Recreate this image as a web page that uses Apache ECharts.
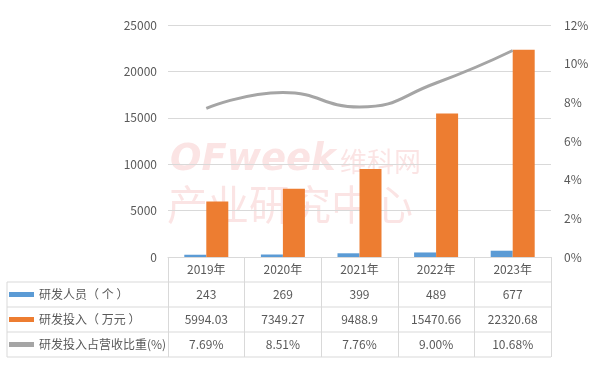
<!DOCTYPE html>
<html><head><meta charset="utf-8">
<script src="https://cdn.jsdelivr.net/npm/echarts@6/dist/echarts.min.js"></script>
<style>html,body{margin:0;padding:0;background:#fff}#c{width:595px;height:368px}</style>
</head><body><div id="c"></div>
<script>
const categories = ['2019年','2020年','2021年','2022年','2023年'];
const staff = [243, 269, 399, 489, 677];
const investment = [5994.03, 7349.27, 9488.9, 15470.66, 22320.68];
const ratio = [7.69, 8.51, 7.76, 9.00, 10.68];
const staffLabels = ['243','269','399','489','677'];
const investLabels = ['5994.03','7349.27','9488.9','15470.66','22320.68'];
const ratioLabels = ['7.69%','8.51%','7.76%','9.00%','10.68%'];
const names = ['研发人员（ 个 ）','研发投入（ 万元 ）','研发投入占营收比重(%)'];

const FONT = '"Noto Sans CJK SC", "Noto Sans", sans-serif';
const TXT = '#595959';
const GRID = '#D9D9D9';
const chart = echarts.init(document.getElementById('c'));
const G = {left:168, right:44, top:25, bottom:111};
const rowH = 25;

function rowAxis(idx, data){
  return {type:'category', data:data, position:'bottom', offset: rowH*idx, gridIndex:0,
    axisLine:{show:false}, axisTick:{show:false}, splitLine:{show:false},
    axisLabel:{color:TXT, fontSize:12, fontFamily:FONT, margin:6, interval:0}};
}
const tableLeft = 7, tableRight = 595 - G.right, axisY = 368 - G.bottom;
const graphics = [];
for (let i=1;i<=4;i++){
  graphics.push({type:'line', shape:{x1:tableLeft, y1:axisY+rowH*i, x2:tableRight, y2:axisY+rowH*i}, style:{stroke:GRID, lineWidth:1}, silent:true});
}
graphics.push({type:'line', shape:{x1:tableLeft, y1:axisY+rowH, x2:tableLeft, y2:axisY+rowH*4}, style:{stroke:GRID, lineWidth:1}, silent:true});
// watermark
const WM = 'rgba(236,120,120,0.2)';
graphics.push({type:'text', left:170, top:142, z:-1, style:{text:'OFweek', font:'italic bold 37px "DejaVu Sans", sans-serif', fill:WM}, silent:true});
graphics.push({type:'text', left:340, top:148, z:-1, style:{text:'维科网', font:'27px "Noto Sans CJK SC"', fill:WM}, silent:true});
graphics.push({type:'text', left:167, top:184, z:-1, style:{text:'产业研究中心', font:'41px "Noto Sans CJK SC"', fill:WM}, silent:true});

chart.setOption({
  animation:false,
  textStyle:{fontFamily:FONT},
  grid:G,
  legend:{orient:'vertical', left:9, top:axisY+rowH+5.5, padding:0, itemGap:11,
    itemWidth:25, itemHeight:5,
    textStyle:{color:TXT, fontSize:12, fontFamily:FONT, lineHeight:14},
    data:[{name:names[0], icon:'rect'},{name:names[1], icon:'rect'},{name:names[2], icon:'rect', itemStyle:{color:'#A5A5A5'}}]},
  xAxis:[
    {type:'category', data:categories, position:'bottom',
      axisLine:{show:true, lineStyle:{color:GRID}},
      axisTick:{show:true, length:rowH*4, lineStyle:{color:GRID}},
      axisLabel:{color:TXT, fontSize:12, fontFamily:FONT, margin:6}},
    rowAxis(1, staffLabels), rowAxis(2, investLabels), rowAxis(3, ratioLabels)
  ],
  yAxis:[
    {type:'value', min:0, max:25000, interval:5000,
      axisLine:{show:false}, axisTick:{show:false},
      splitLine:{lineStyle:{color:GRID}},
      axisLabel:{color:TXT, fontSize:12, fontFamily:FONT, margin:11, formatter:v=>String(v)}},
    {type:'value', min:0, max:0.12, interval:0.02, position:'right',
      axisLine:{show:false}, axisTick:{show:false}, splitLine:{show:false},
      axisLabel:{color:TXT, fontSize:12, fontFamily:FONT, margin:13,
        formatter:v=>Math.round(v*100)+'%'}}
  ],
  series:[
    {name:names[0], type:'bar', data:staff, barWidth:22, barGap:'0%', itemStyle:{color:'#5B9BD5'}},
    {name:names[1], type:'bar', data:investment, barWidth:22, barGap:'0%', itemStyle:{color:'#ED7D31'}},
    {name:names[2], type:'line', yAxisIndex:1, data:ratio.map(v=>v/100), smooth:true, symbol:'none',
      lineStyle:{color:'#A5A5A5', width:3}, itemStyle:{color:'#A5A5A5'}}
  ],
  graphic:graphics
});
</script></body></html>
